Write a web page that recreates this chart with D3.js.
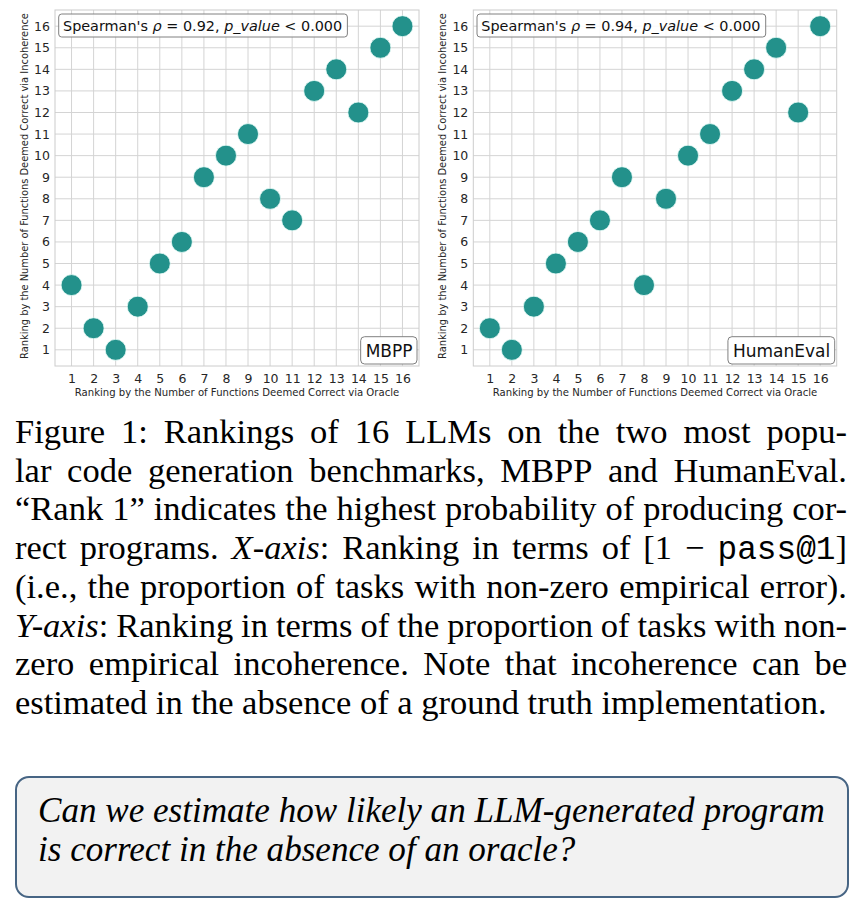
<!DOCTYPE html>
<html>
<head>
<meta charset="utf-8">
<script src="https://cdn.jsdelivr.net/npm/d3@7"></script>
<style>
  html, body { margin: 0; padding: 0; background: #ffffff; }
  svg { display: block; }
</style>
</head>
<body>
<svg id="fig" width="858" height="907"></svg>
<script>
// ---------------- data ----------------
const ranks = d3.range(1, 17);                     // tick labels 1..16
const oracleRank = [1,2,3,4,5,6,7,8,9,10,11,12,13,14,15,16];
const mbppIncoherenceRank = [4,2,1,3,5,6,9,10,11,8,7,13,14,12,15,16];
const humanEvalIncoherenceRank = [2,1,3,5,6,7,9,4,8,10,11,13,14,15,12,16];
const rhoValues = ["0.92", "0.94"];
const benchmarkNames = ["MBPP", "HumanEval"];
const xLabel = "Ranking by the Number of Functions Deemed Correct via Oracle";
const yLabel = "Ranking by the Number of Functions Deemed Correct via Incoherence";

// caption: tokens are lists of [text, style]; N = normal, I = italic, M = mono
const captionLines = [
  [[["Figure","N"]],[["1:","N"]],[["Rankings","N"]],[["of","N"]],[["16","N"]],[["LLMs","N"]],[["on","N"]],[["the","N"]],[["two","N"]],[["most","N"]],[["popu-","N"]]],
  [[["lar","N"]],[["code","N"]],[["generation","N"]],[["benchmarks,","N"]],[["MBPP","N"]],[["and","N"]],[["HumanEval.","N"]]],
  [[["\u201CRank","N"]],[["1\u201D","N"]],[["indicates","N"]],[["the","N"]],[["highest","N"]],[["probability","N"]],[["of","N"]],[["producing","N"]],[["cor-","N"]]],
  [[["rect","N"]],[["programs.","N"]],[["X-axis","I"],[":","N"]],[["Ranking","N"]],[["in","N"]],[["terms","N"]],[["of","N"]],[["[1","N"]],[["\u2212","N"]],[["pass@1","M"],["]","N"]]],
  [[["(i.e.,","N"]],[["the","N"]],[["proportion","N"]],[["of","N"]],[["tasks","N"]],[["with","N"]],[["non-zero","N"]],[["empirical","N"]],[["error).","N"]]],
  [[["Y-axis","I"],[":","N"]],[["Ranking","N"]],[["in","N"]],[["terms","N"]],[["of","N"]],[["the","N"]],[["proportion","N"]],[["of","N"]],[["tasks","N"]],[["with","N"]],[["non-","N"]]],
  [[["zero","N"]],[["empirical","N"]],[["incoherence.","N"]],[["Note","N"]],[["that","N"]],[["incoherence","N"]],[["can","N"]],[["be","N"]]],
  [[["estimated","N"]],[["in","N"]],[["the","N"]],[["absence","N"]],[["of","N"]],[["a","N"]],[["ground","N"]],[["truth","N"]],[["implementation.","N"]]]
];
const questionLines = [
  "Can we estimate how likely an LLM-generated program",
  "is correct in the absence of an oracle?"
];

// ---------------- drawing ----------------
const svg = d3.select("#fig");
const SANS = "'DejaVu Sans', sans-serif";
const SERIF = "'Liberation Serif', 'Times New Roman', serif";
const MONO = "'Liberation Mono', 'DejaVu Sans Mono', monospace";

const panels = [
  { x0: 55, x1: 419, ylabX: 25, y: mbppIncoherenceRank, rho: rhoValues[0], name: benchmarkNames[0] },
  { x0: 473.3, x1: 836.7, ylabX: 443, y: humanEvalIncoherenceRank, rho: rhoValues[1], name: benchmarkNames[1] }
];
const plotTop = 10, plotBottom = 366;

panels.forEach(p => {
  const g = svg.append("g");
  const x = d3.scaleLinear().domain([0.25, 16.75]).range([p.x0, p.x1]);
  const y = d3.scaleLinear().domain([0.25, 16.75]).range([plotBottom, plotTop]);

  // grid
  g.append("g").selectAll("line").data(ranks).join("line")
    .attr("x1", d => x(d)).attr("x2", d => x(d)).attr("y1", plotTop).attr("y2", plotBottom)
    .attr("stroke", "#d4d4d4").attr("stroke-width", 1);
  g.append("g").selectAll("line").data(ranks).join("line")
    .attr("y1", d => y(d)).attr("y2", d => y(d)).attr("x1", p.x0).attr("x2", p.x1)
    .attr("stroke", "#d4d4d4").attr("stroke-width", 1);

  // axes (labels only)
  const xa = g.append("g").attr("transform", `translate(0,${plotBottom})`)
    .call(d3.axisBottom(x).tickValues(ranks).tickSize(0).tickPadding(8).tickFormat(d3.format("d")));
  const ya = g.append("g").attr("transform", `translate(${p.x0},0)`)
    .call(d3.axisLeft(y).tickValues(ranks).tickSize(0).tickPadding(5).tickFormat(d3.format("d")));
  [xa, ya].forEach(a => {
    a.select(".domain").remove();
    a.selectAll("text").attr("font-family", SANS).attr("font-size", 12.5).attr("fill", "#262626");
  });

  // frame
  g.append("rect").attr("x", p.x0).attr("y", plotTop).attr("width", p.x1 - p.x0).attr("height", plotBottom - plotTop)
    .attr("fill", "none").attr("stroke", "#cccccc").attr("stroke-width", 1);

  // points
  g.append("g").selectAll("circle").data(oracleRank).join("circle")
    .attr("cx", d => x(d)).attr("cy", (d, i) => y(p.y[i])).attr("r", 10.5)
    .attr("fill", "#23918b").attr("stroke", "#e8fbf8").attr("stroke-width", 0.8);

  // axis titles
  g.append("text").attr("x", (p.x0 + p.x1) / 2).attr("y", 396).attr("text-anchor", "middle")
    .attr("font-family", SANS).attr("font-size", 10.1).attr("fill", "#262626").text(xLabel);
  g.append("text").attr("transform", `translate(${p.ylabX},${(plotTop + plotBottom) / 2 - 2}) rotate(-90)`)
    .attr("text-anchor", "middle").attr("dominant-baseline", "middle")
    .attr("font-family", SANS).attr("font-size", 9.9).attr("fill", "#262626").text(yLabel);

  // Spearman annotation
  const ann = g.append("g");
  const at = ann.append("text").attr("x", p.x0 + 8).attr("y", 30.5)
    .attr("font-family", SANS).attr("font-size", 14.4).attr("fill", "#111");
  at.append("tspan").text("Spearman's ");
  at.append("tspan").attr("font-style", "italic").text("\u03C1");
  at.append("tspan").text(" = " + p.rho + ", ");
  at.append("tspan").attr("font-style", "italic").text("p_value");
  at.append("tspan").text(" < 0.000");
  const bb = at.node().getBBox();
  ann.insert("rect", "text").attr("x", p.x0 + 3.7).attr("y", 14).attr("width", bb.width + 9.5).attr("height", 23)
    .attr("rx", 3).attr("fill", "#ffffff").attr("fill-opacity", 0.85).attr("stroke", "#808080").attr("stroke-width", 1);

  // benchmark label
  const lab = g.append("g");
  const lt = lab.append("text").attr("x", p.x1 - 6.5).attr("y", 356.5).attr("text-anchor", "end")
    .attr("font-family", SANS).attr("font-size", 17).attr("fill", "#111").text(p.name);
  const lb = lt.node().getBBox();
  lab.insert("rect", "text").attr("x", lb.x - 5).attr("y", 336.7).attr("width", lb.width + 9.5).attr("height", 27.3)
    .attr("rx", 4).attr("fill", "#ffffff").attr("stroke", "#808080").attr("stroke-width", 1);
});

// ---------------- caption ----------------
const CAP_X0 = 15, CAP_X1 = 847, CAP_FS = 34.5, CAP_B0 = 443, CAP_LH = 38.7;
const styleAttrs = s => s === "I" ? { fam: SERIF, st: "italic" } : s === "M" ? { fam: MONO, st: "normal" } : { fam: SERIF, st: "normal" };
captionLines.forEach((line, li) => {
  const lg = svg.append("g");
  const baseline = CAP_B0 + li * CAP_LH;
  const toks = line.map(tok => {
    const t = lg.append("text").attr("y", baseline).attr("font-size", CAP_FS).attr("fill", "#000");
    tok.forEach(([txt, s]) => {
      const a = styleAttrs(s);
      t.append("tspan").attr("font-family", a.fam).attr("font-style", a.st)
        .attr("font-size", s === "M" ? CAP_FS * 0.95 : CAP_FS).text(txt);
    });
    return { t, w: t.node().getComputedTextLength() };
  });
  const sumW = d3.sum(toks, d => d.w);
  const isLast = li === captionLines.length - 1;
  const W = CAP_X1 - CAP_X0;
  const minGap = CAP_FS * 0.22;
  let gap = isLast ? CAP_FS * 0.25 : (W - sumW) / (toks.length - 1);
  let scale = 1;
  if (gap < minGap) { scale = W / (sumW + minGap * (toks.length - 1)); gap = minGap; }
  if (isLast) { scale = Math.min(1, 818 / (sumW + gap * (toks.length - 1))); }
  let cx = 0;
  toks.forEach(d => { d.t.attr("x", cx); cx += d.w + gap; });
  lg.attr("transform", `translate(${CAP_X0},0) scale(${scale},1)`);
});

// ---------------- question box ----------------
svg.append("rect").attr("x", 16).attr("y", 777).attr("width", 832).attr("height", 120)
  .attr("rx", 13).attr("fill", "#f2f2f2").attr("stroke", "#476584").attr("stroke-width", 2);
const q1 = svg.append("text").attr("x", 38).attr("y", 822).attr("font-family", SERIF)
  .attr("font-style", "italic").attr("font-size", 31).attr("fill", "#000").text(questionLines[0]);
const qw = q1.node().getComputedTextLength();
const qfs = 31 * 787 / qw;
q1.attr("font-size", qfs);
svg.append("text").attr("x", 38).attr("y", 861).attr("font-family", SERIF)
  .attr("font-style", "italic").attr("font-size", qfs).attr("fill", "#000").text(questionLines[1]);
</script>
</body>
</html>
